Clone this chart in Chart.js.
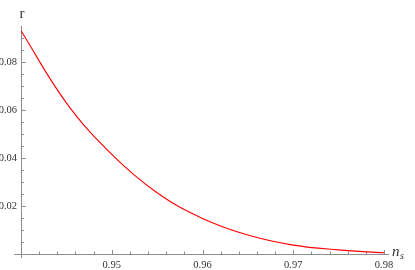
<!DOCTYPE html>
<html>
<head>
<meta charset="utf-8">
<script src="https://cdn.jsdelivr.net/npm/chart.js@4"></script>
<style>
  body { margin: 0; background: #fff; }
</style>
</head>
<body>
<canvas id="chart" width="415" height="270"></canvas>
<script>
// values
const ns = [0.94, 0.945, 0.95, 0.955, 0.96, 0.965, 0.97, 0.975, 0.98];
const r = [0.093, 0.063, 0.0415, 0.0255, 0.0148, 0.0079, 0.0037, 0.0017, 0.0005];

const xTicks = [0.95, 0.96, 0.97, 0.98];
const yTicks = [0.02, 0.04, 0.06, 0.08];
const xMinorStep = 0.002;
const yMinorStep = 0.005;

const axisColor = '#8c8c8c';
const textColor = '#333';
const font = '10.5px "Liberation Serif", "DejaVu Serif", serif';

const axesPlugin = {
    id: 'mmaAxes',
    beforeDatasetsDraw(chart) {
        const ctx = chart.ctx;
        const xs = chart.scales.x;
        const ys = chart.scales.y;
        const x0 = xs.getPixelForValue(0.94);
        const y0 = ys.getPixelForValue(0);
        const xEnd = xs.getPixelForValue(0.98);
        const yTop = ys.getPixelForValue(0.095);

        ctx.save();
        ctx.strokeStyle = axisColor;
        ctx.lineWidth = 1;
        ctx.beginPath();
        // axes lines
        ctx.moveTo(x0 - 7, y0 + 0.5);
        ctx.lineTo(xEnd + 5, y0 + 0.5);
        ctx.moveTo(x0 + 0.5, yTop);
        ctx.lineTo(x0 + 0.5, y0 + 4);

        // x ticks (pointing up)
        for (let v = 0.94 + xMinorStep; v <= 0.98 + 1e-9; v += xMinorStep) {
            const px = Math.round(xs.getPixelForValue(v)) + 0.5;
            const major = xTicks.some(t => Math.abs(t - v) < 1e-6);
            ctx.moveTo(px, y0);
            ctx.lineTo(px, y0 - (major ? 4 : 2.5));
        }
        // y ticks (pointing right)
        for (let v = yMinorStep; v <= 0.09 + 1e-9; v += yMinorStep) {
            const py = Math.round(ys.getPixelForValue(v)) + 0.5;
            const major = yTicks.some(t => Math.abs(t - v) < 1e-6);
            ctx.moveTo(x0, py);
            ctx.lineTo(x0 + (major ? 5 : 3), py);
        }
        ctx.stroke();

        // tick labels
        ctx.fillStyle = textColor;
        ctx.font = font;
        ctx.textAlign = 'center';
        ctx.textBaseline = 'top';
        xTicks.forEach(t => {
            ctx.fillText(t.toFixed(2), xs.getPixelForValue(t), y0 + 6);
        });
        ctx.textAlign = 'right';
        ctx.textBaseline = 'middle';
        yTicks.forEach(t => {
            ctx.fillText(t.toFixed(2), x0 - 4, ys.getPixelForValue(t));
        });

        // axis labels
        ctx.textAlign = 'center';
        ctx.textBaseline = 'alphabetic';
        ctx.font = '15px "Liberation Serif", serif';
        ctx.fillText('r', x0 + 1, 18);
        ctx.textAlign = 'left';
        ctx.font = 'italic 15px "Liberation Serif", serif';
        ctx.fillText('n', xEnd + 8, y0 + 2);
        ctx.font = 'italic 10px "Liberation Serif", serif';
        ctx.fillText('s', xEnd + 16, y0 + 5);
        ctx.restore();
    }
};

new Chart(
    document.getElementById('chart'),
    {
        type: 'line',
        data: {
            labels: ns,
            datasets: [
                {
                    data: ns.map((x, i) => ({ x: x, y: r[i] })),
                    borderColor: '#ff0000',
                    borderWidth: 1.1,
                    pointRadius: 0,
                    fill: false,
                    tension: 0.4
                }
            ]
        },
        options: {
            responsive: false,
            animation: false,
            layout: {
                padding: { left: 21, right: 31, top: 26, bottom: 16 }
            },
            plugins: {
                legend: { display: false },
                tooltip: { enabled: false }
            },
            scales: {
                x: { type: 'linear', min: 0.94, max: 0.98, display: false },
                y: { type: 'linear', min: 0, max: 0.095, display: false }
            }
        },
        plugins: [axesPlugin]
    }
);
</script>
</body>
</html>
